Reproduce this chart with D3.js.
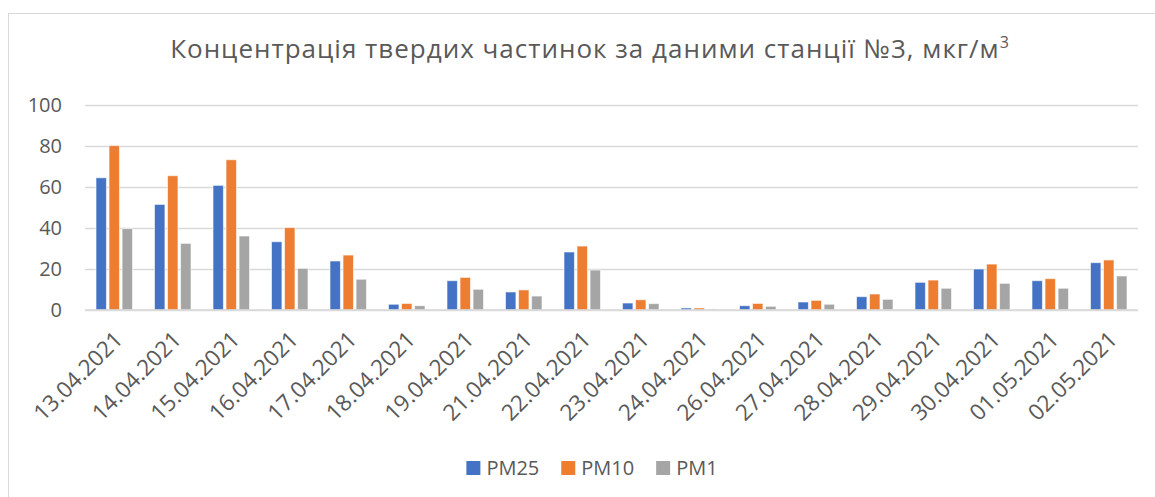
<!DOCTYPE html>
<html>
<head>
<meta charset="utf-8">
<script src="https://cdn.jsdelivr.net/npm/d3@7"></script>
<style>
  body { margin: 0; background: #fff; }
  text { font-family: "Open Sans", "Liberation Sans", sans-serif; fill: #595959; }
</style>
</head>
<body>
<svg id="chart" width="1155" height="497"></svg>
<script>
// Dates on the x axis
var dates = ['13.04.2021', '14.04.2021', '15.04.2021', '16.04.2021', '17.04.2021', '18.04.2021',
             '19.04.2021', '21.04.2021', '22.04.2021', '23.04.2021', '24.04.2021', '26.04.2021',
             '27.04.2021', '28.04.2021', '29.04.2021', '30.04.2021', '01.05.2021', '02.05.2021'];

// Series names and values
var seriesNames = ['PM25', 'PM10', 'PM1'];
var pm25 = [64.5, 51.5, 60.8, 33.3, 23.9, 2.8, 14.3, 8.8, 28.3, 3.4, 1.0, 2.1, 3.9, 6.5, 13.5, 20.0, 14.3, 23.1];
var pm10 = [80.2, 65.5, 73.3, 40.2, 26.8, 3.2, 15.9, 9.8, 31.2, 5.0, 1.0, 3.2, 4.7, 7.8, 14.6, 22.4, 15.3, 24.4];
var pm1  = [39.7, 32.5, 36.1, 20.3, 15.0, 2.1, 10.1, 6.8, 19.5, 3.1, 0.5, 1.8, 2.8, 5.2, 10.6, 13.0, 10.6, 16.6];
var yTicks = [0, 20, 40, 60, 80, 100];

var colors = ['#4472C4', '#ED7D31', '#A5A5A5'];
var seriesValues = [pm25, pm10, pm1];

var svg = d3.select('#chart');

// chart border
svg.append('rect')
  .attr('x', 8.5).attr('y', 13.5)
  .attr('width', 1200).attr('height', 600)
  .attr('fill', 'none')
  .attr('stroke', '#D9D9D9')
  .attr('stroke-width', 1);

// Title
var title = svg.append('text')
  .attr('x', 590).attr('y', 58)
  .attr('text-anchor', 'middle')
  .style('font-size', '26px')
  .style('letter-spacing', '1px');
title.append('tspan').text('Концентрація твердих частинок за даними станції №3, мкг/м');
title.append('tspan').attr('dy', -10).style('font-size', '16px').text('3');

// Scales
var plotLeft = 85, plotRight = 1138, plotTop = 105, plotBottom = 310;

var x0 = d3.scaleBand()
  .domain(dates)
  .range([plotLeft, plotRight]);

var x1 = d3.scaleBand()
  .domain(seriesNames)
  .range([x0.bandwidth() * 0.188, x0.bandwidth() * 0.812])
  .paddingInner(0.2);

var y = d3.scaleLinear()
  .domain([0, 100])
  .range([plotBottom, plotTop]);

// Gridlines + y labels
var yAxis = d3.axisLeft(y)
  .tickValues(yTicks)
  .tickSize(-(plotRight - plotLeft))
  .tickPadding(23);

var gy = svg.append('g')
  .attr('transform', 'translate(' + plotLeft + ',0)')
  .call(yAxis);
gy.select('.domain').remove();
gy.selectAll('.tick line').attr('stroke', '#D9D9D9').attr('stroke-width', 1.3);
gy.selectAll('.tick text').style('font-size', '20px').attr('fill', '#595959');

// Bars
var groups = svg.append('g').selectAll('g')
  .data(dates)
  .enter().append('g')
  .attr('transform', function(d) { return 'translate(' + x0(d) + ',0)'; });

groups.selectAll('rect')
  .data(function(d, i) {
    return seriesNames.map(function(s, k) { return {s: s, k: k, v: seriesValues[k][i]}; });
  })
  .enter().append('rect')
  .attr('x', function(d) { return x1(d.s); })
  .attr('width', x1.bandwidth())
  .attr('y', function(d) { return y(d.v); })
  .attr('height', function(d) { return y(0) - y(d.v); })
  .attr('fill', function(d) { return colors[d.k]; })
  .attr('stroke', 'rgba(255,255,255,0.6)')
  .attr('stroke-width', 1);

// x axis line (drawn over bars)
svg.append('line')
  .attr('x1', plotLeft).attr('x2', plotRight)
  .attr('y1', plotBottom).attr('y2', plotBottom)
  .attr('stroke', '#D9D9D9').attr('stroke-width', 1.3);

// x labels rotated
svg.append('g').selectAll('text')
  .data(dates)
  .enter().append('text')
  .attr('transform', function(d) {
    return 'translate(' + (x0(d) + x0.bandwidth() / 2) + ',' + (plotBottom + 21) + ') rotate(-45)';
  })
  .attr('text-anchor', 'end')
  .attr('dy', '14px')
  .style('font-size', '22.5px')
  .text(function(d) { return d; });

// Legend
var legend = svg.append('g');
var lx = 0;
seriesNames.forEach(function(s, k) {
  var item = legend.append('g').attr('transform', 'translate(' + lx + ',0)');
  item.append('rect')
    .attr('x', 0).attr('y', -14)
    .attr('width', 14).attr('height', 14)
    .attr('fill', colors[k]);
  var t = item.append('text')
    .attr('x', 20).attr('y', 0)
    .style('font-size', '20px')
    .text(s);
  lx += 20 + t.node().getComputedTextLength() + 22;
});
var legendWidth = lx - 22;
legend.attr('transform', 'translate(' + (592 - legendWidth / 2) + ',475)');
</script>
</body>
</html>
